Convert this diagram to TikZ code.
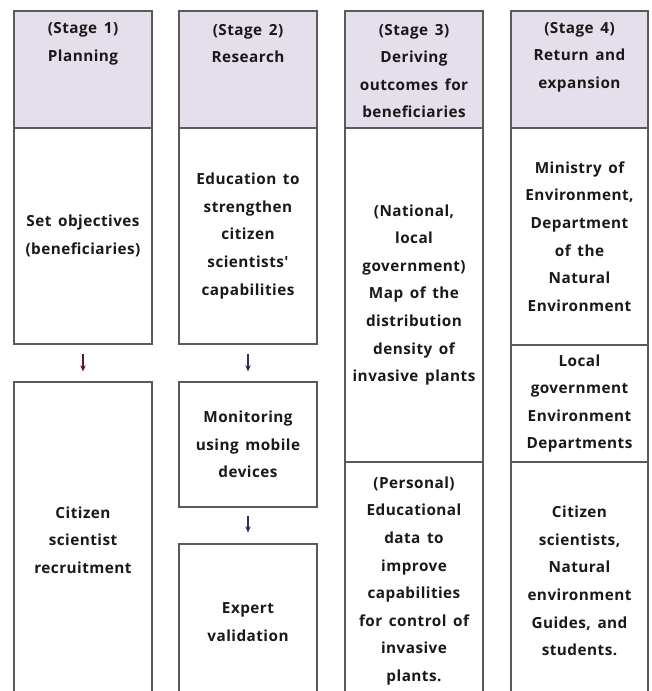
\documentclass[tikz,border=0pt]{standalone}
\usepackage{fontspec}
\newfontfamily\boxfont{Open Sans}[LetterSpace=3, WordSpace=1.5]
\usetikzlibrary{arrows.meta}
\definecolor{lavender}{RGB}{229,223,236}
\definecolor{boxgray}{RGB}{90,90,90}
\definecolor{arrowred}{RGB}{95,20,50}
\definecolor{arrowblue}{RGB}{50,45,95}
\newcommand{\stagefont}{\boxfont\bfseries\fontsize{15.3}{27.6}\selectfont}
\begin{document}
\begin{tikzpicture}[x=1pt,y=-1pt,
  frame/.style={draw=boxgray, line width=1.3pt, rectangle, inner sep=0pt,
    minimum width=138pt, align=center, font=\stagefont, text=black!90,
    execute at begin node=\rule{0pt}{15pt}},
  head/.style={frame, fill=lavender},
  label/.style={align=center, inner sep=0pt, font=\stagefont, text=black!90,
    execute at begin node=\rule{0pt}{15pt}},
  flow/.style={-{Stealth[length=6pt,width=5.5pt]}, line width=1.3pt}]
\useasboundingbox (0,0) rectangle (651,691);
\clip (0,0) rectangle (651,691);

% stage headers
\node[head, minimum height=117pt] (h1) at (83,69.5) {};
\node[head, minimum height=117pt] (h2) at (248,69.5) {};
\node[head, minimum height=117pt] (h3) at (414,69.5) {};
\node[head, minimum width=137pt, minimum height=117pt] (h4) at (579.5,69.5) {};
\node[label] (h1t) at (83,43.5) {(Stage 1)\\Planning};
\node[label] (h2t) at (248,43.5) {(Stage 2)\\Research};
\node[label] (h3t) at (414,71) {(Stage 3)\\Deriving\\outcomes for\\beneficiaries};
\node[label] (h4t) at (579.5,57) {(Stage 4)\\Return and\\expansion};

% stage 1: planning
\node[frame, minimum height=216pt] (obj) at (83,236) {Set objectives\\(beneficiaries)};
\node[frame, minimum height=316pt] (rec) at (83,540) {Citizen\\scientist\\recruitment};

% stage 2: research
\node[frame, minimum height=216pt] (edu) at (248,236)
  {Education to\\strengthen\\citizen\\scientists'\\capabilities};
\node[frame, minimum height=125pt] (mon) at (248,444.5) {Monitoring\\using mobile\\devices};
\node[frame, minimum height=156pt] (exp) at (248,622) {Expert\\validation};

% stage 3: outcomes
\node[frame, minimum height=334pt] (nat) at (414,295)
  {(National,\\local\\government)\\Map of the\\distribution\\density of\\invasive plants};
\node[frame, minimum height=238pt] (per) at (414,581)
  {(Personal)\\Educational\\data to\\improve\\capabilities\\for control of\\invasive\\plants.};

% stage 4: return and expansion
\node[frame, minimum width=137pt, minimum height=217pt] (min) at (579.5,236.5)
  {Ministry of\\Environment,\\Department\\of the\\Natural\\Environment};
\node[frame, minimum width=137pt, minimum height=117pt] (loc) at (579.5,403.5)
  {Local\\government\\Environment\\Departments};
\node[frame, minimum width=137pt, minimum height=238pt] (cit) at (579.5,581)
  {Citizen\\scientists,\\Natural\\environment\\Guides, and\\students.};

% flow arrows
\draw[flow, draw=arrowred, shorten <=9pt, shorten >=10pt] (obj) -- (rec);
\draw[flow, draw=arrowblue, shorten <=9pt, shorten >=10pt] (edu) -- (mon);
\draw[flow, draw=arrowblue, shorten <=8pt, shorten >=11pt] (mon) -- (exp);
\end{tikzpicture}
\end{document}
